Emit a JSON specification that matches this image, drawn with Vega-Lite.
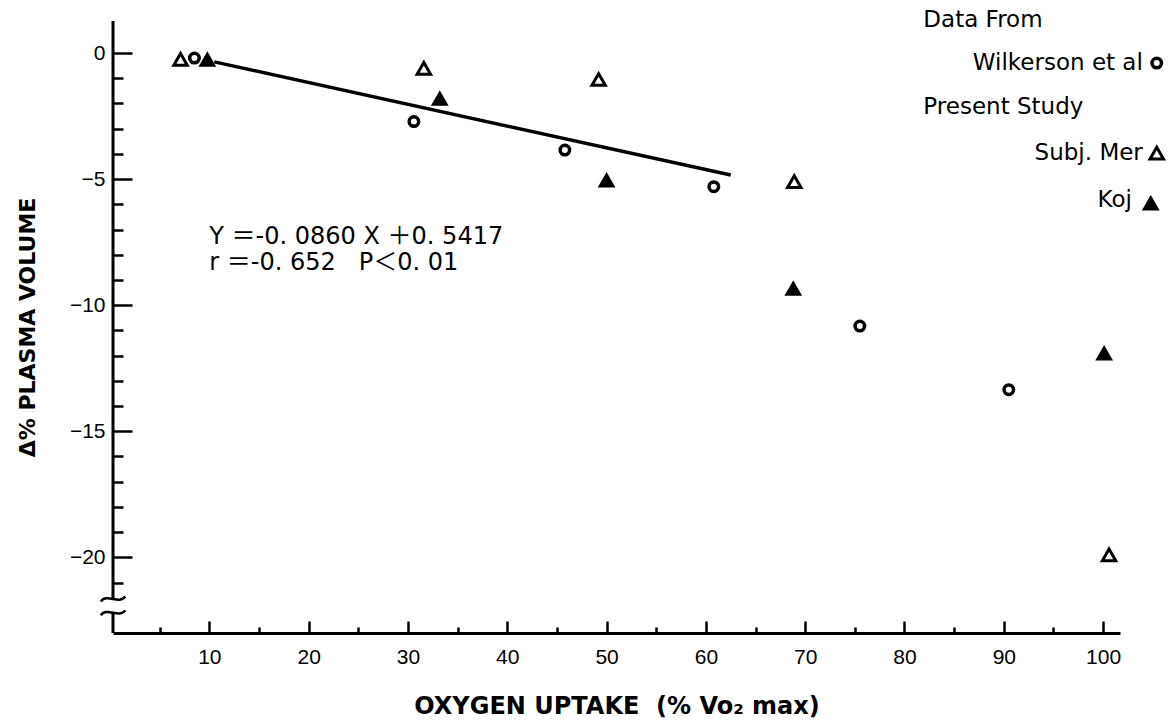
{
  "$schema": "https://vega.github.io/schema/vega-lite/v6.json",
  "width": 1007,
  "height": 612,
  "autosize": "none",
  "padding": {"left": 113, "top": 21, "right": 55, "bottom": 87},
  "background": "white",
  "config": {
    "view": {"stroke": null},
    "axis": {"grid": false, "labelFont": "Liberation Sans", "labelFontSize": 21, "labelColor": "black", "tickColor": "black", "domainColor": "black", "tickWidth": 2.5, "domainWidth": 3, "titleColor": "black", "labelFlush": false, "labelOverlap": false},
    "text": {"font": "DejaVu Sans, Noto Sans CJK JP", "fontSize": 23, "color": "black"}
  },
  "datasets": {
    "points": [
      {"source": "Wilkerson et al", "vo2": 8.5, "dpv": -0.2},
      {"source": "Wilkerson et al", "vo2": 30.6, "dpv": -2.72},
      {"source": "Wilkerson et al", "vo2": 45.8, "dpv": -3.85},
      {"source": "Wilkerson et al", "vo2": 60.8, "dpv": -5.3},
      {"source": "Wilkerson et al", "vo2": 75.5, "dpv": -10.83},
      {"source": "Wilkerson et al", "vo2": 90.5, "dpv": -13.35},
      {"source": "Subj. Mer", "vo2": 7.1, "dpv": -0.25},
      {"source": "Subj. Mer", "vo2": 31.6, "dpv": -0.61},
      {"source": "Subj. Mer", "vo2": 49.2, "dpv": -1.05},
      {"source": "Subj. Mer", "vo2": 68.9, "dpv": -5.1},
      {"source": "Subj. Mer", "vo2": 100.6, "dpv": -19.9},
      {"source": "Koj", "vo2": 9.8, "dpv": -0.25},
      {"source": "Koj", "vo2": 33.2, "dpv": -1.8},
      {"source": "Koj", "vo2": 50.0, "dpv": -5.04},
      {"source": "Koj", "vo2": 68.8, "dpv": -9.34},
      {"source": "Koj", "vo2": 100.1, "dpv": -11.9}
    ],
    "fit": [
      {"vo2": 10.5, "dpv": -0.35},
      {"vo2": 62.5, "dpv": -4.84}
    ],
    "one": [{}]
  },
  "layer": [
    {
      "data": {"name": "points"},
      "transform": [{"filter": "datum.source === 'Wilkerson et al'"}],
      "mark": {"type": "point", "shape": "circle", "filled": false, "stroke": "black", "strokeWidth": 3.5, "size": 90, "opacity": 1},
      "encoding": {
        "x": {"field": "vo2", "type": "quantitative", "scale": {"domain": [0.3, 101.7], "nice": false, "zero": false},
          "axis": {"orient": "bottom", "values": [10, 20, 30, 40, 50, 60, 70, 80, 90, 100], "tickSize": -12, "labelPadding": 25,
            "title": "OXYGEN UPTAKE\u00a0\u00a0(% Vo₂ max)", "titleFont": "DejaVu Sans", "titleFontWeight": "bold", "titleFontSize": 24, "titlePadding": 27}},
        "y": {"field": "dpv", "type": "quantitative", "scale": {"domain": [-23.0, 1.27], "nice": false, "zero": false},
          "axis": {"orient": "left", "values": [0, -5, -10, -15, -20], "tickSize": -19, "labelPadding": 27, "domain": false,
            "title": "Δ% PLASMA VOLUME", "titleFont": "DejaVu Sans", "titleFontWeight": "bold", "titleFontSize": 22, "titlePadding": 30}}
      }
    },
    {
      "data": {"name": "fit"},
      "mark": {"type": "line", "stroke": "black", "strokeWidth": 3.5},
      "encoding": {
        "x": {"field": "vo2", "type": "quantitative",
          "axis": {"orient": "bottom", "values": [5, 15, 25, 35, 45, 55, 65, 75, 85, 95], "tickSize": -6, "labels": false, "domain": false, "title": null}},
        "y": {"field": "dpv", "type": "quantitative",
          "axis": {"orient": "left", "values": [-1, -2, -3, -4, -6, -7, -8, -9, -11, -12, -13, -14, -16, -17, -18, -19, -21], "tickSize": -10, "labels": false, "domain": false, "title": null}}
      }
    },
    {
      "data": {"name": "points"},
      "transform": [{"filter": "datum.source === 'Subj. Mer'"}],
      "mark": {"type": "point", "shape": "triangle-up", "filled": false, "stroke": "black", "strokeWidth": 3, "size": 180, "opacity": 1},
      "encoding": {
        "x": {"field": "vo2", "type": "quantitative", "axis": null},
        "y": {"field": "dpv", "type": "quantitative", "axis": null}
      }
    },
    {
      "data": {"name": "points"},
      "transform": [{"filter": "datum.source === 'Koj'"}],
      "mark": {"type": "point", "shape": "triangle-up", "filled": true, "fill": "black", "stroke": "black", "strokeWidth": 1.5, "size": 230, "opacity": 1},
      "encoding": {
        "x": {"field": "vo2", "type": "quantitative", "axis": null},
        "y": {"field": "dpv", "type": "quantitative", "axis": null}
      }
    },
    {
      "data": {"name": "one"},
      "mark": {"type": "rule", "stroke": "black", "strokeWidth": 3},
      "encoding": {
        "x": {"datum": 0.3, "type": "quantitative", "axis": null},
        "y": {"datum": 1.27, "type": "quantitative", "axis": null},
        "y2": {"datum": -21.65}
      }
    },
    {
      "data": {"name": "one"},
      "mark": {"type": "rule", "stroke": "black", "strokeWidth": 3},
      "encoding": {
        "x": {"datum": 0.3, "type": "quantitative", "axis": null},
        "y": {"datum": -22.2, "type": "quantitative", "axis": null},
        "y2": {"datum": -23.0}
      }
    },
    {
      "data": {"name": "one"},
      "mark": {"type": "point", "shape": "M -1 0.2 C -0.5 -0.5 0.5 0.5 1 -0.2", "filled": false, "stroke": "black", "strokeWidth": 2.5, "size": 600, "opacity": 1},
      "encoding": {
        "x": {"datum": 0.3, "type": "quantitative", "axis": null},
        "y": {"datum": -21.65, "type": "quantitative", "axis": null}
      }
    },
    {
      "data": {"name": "one"},
      "mark": {"type": "point", "shape": "M -1 0.2 C -0.5 -0.5 0.5 0.5 1 -0.2", "filled": false, "stroke": "black", "strokeWidth": 2.5, "size": 600, "opacity": 1},
      "encoding": {
        "x": {"datum": 0.3, "type": "quantitative", "axis": null},
        "y": {"datum": -22.2, "type": "quantitative", "axis": null}
      }
    },
    {
      "data": {"name": "one"},
      "mark": {"type": "text", "align": "left", "baseline": "middle", "fontSize": 24},
      "encoding": {
        "x": {"datum": 10.0, "type": "quantitative", "axis": null},
        "y": {"datum": -7.3, "type": "quantitative", "axis": null},
        "text": {"value": "Y\u00a0＝-0.\u00a00860\u00a0X\u00a0＋0.\u00a05417"}
      }
    },
    {
      "data": {"name": "one"},
      "mark": {"type": "text", "align": "left", "baseline": "middle", "fontSize": 24},
      "encoding": {
        "x": {"datum": 10.0, "type": "quantitative", "axis": null},
        "y": {"datum": -8.33, "type": "quantitative", "axis": null},
        "text": {"value": "r\u00a0＝-0.\u00a0652\u00a0\u00a0\u00a0P＜0.\u00a001"}
      }
    },
    {
      "data": {"name": "one"},
      "mark": {"type": "text", "align": "left", "baseline": "middle"},
      "encoding": {
        "x": {"datum": 81.9, "type": "quantitative", "axis": null},
        "y": {"datum": 1.31, "type": "quantitative", "axis": null},
        "text": {"value": "Data From"}
      }
    },
    {
      "data": {"name": "one"},
      "mark": {"type": "text", "align": "right", "baseline": "middle"},
      "encoding": {
        "x": {"datum": 104.0, "type": "quantitative", "axis": null},
        "y": {"datum": -0.4, "type": "quantitative", "axis": null},
        "text": {"value": "Wilkerson et al"}
      }
    },
    {
      "data": {"name": "one"},
      "mark": {"type": "text", "align": "left", "baseline": "middle"},
      "encoding": {
        "x": {"datum": 81.9, "type": "quantitative", "axis": null},
        "y": {"datum": -2.14, "type": "quantitative", "axis": null},
        "text": {"value": "Present Study"}
      }
    },
    {
      "data": {"name": "one"},
      "mark": {"type": "text", "align": "right", "baseline": "middle"},
      "encoding": {
        "x": {"datum": 104.0, "type": "quantitative", "axis": null},
        "y": {"datum": -3.97, "type": "quantitative", "axis": null},
        "text": {"value": "Subj. Mer"}
      }
    },
    {
      "data": {"name": "one"},
      "mark": {"type": "text", "align": "right", "baseline": "middle"},
      "encoding": {
        "x": {"datum": 102.9, "type": "quantitative", "axis": null},
        "y": {"datum": -5.83, "type": "quantitative", "axis": null},
        "text": {"value": "Koj"}
      }
    },
    {
      "data": {"name": "one"},
      "mark": {"type": "point", "shape": "circle", "filled": false, "stroke": "black", "strokeWidth": 3.5, "size": 90, "opacity": 1},
      "encoding": {
        "x": {"datum": 105.4, "type": "quantitative", "axis": null},
        "y": {"datum": -0.4, "type": "quantitative", "axis": null}
      }
    },
    {
      "data": {"name": "one"},
      "mark": {"type": "point", "shape": "triangle-up", "filled": false, "stroke": "black", "strokeWidth": 3, "size": 180, "opacity": 1},
      "encoding": {
        "x": {"datum": 105.4, "type": "quantitative", "axis": null},
        "y": {"datum": -3.97, "type": "quantitative", "axis": null}
      }
    },
    {
      "data": {"name": "one"},
      "mark": {"type": "point", "shape": "triangle-up", "filled": true, "fill": "black", "stroke": "black", "strokeWidth": 1.5, "size": 230, "opacity": 1},
      "encoding": {
        "x": {"datum": 104.8, "type": "quantitative", "axis": null},
        "y": {"datum": -5.95, "type": "quantitative", "axis": null}
      }
    }
  ],
  "resolve": {"axis": {"x": "independent", "y": "independent"}}
}
